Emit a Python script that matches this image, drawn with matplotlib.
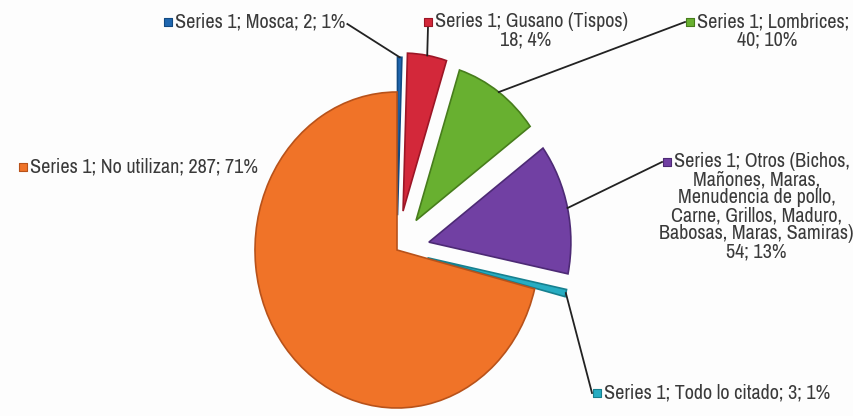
import numpy as np
import matplotlib
matplotlib.use("Agg")
import matplotlib.pyplot as plt
from matplotlib import font_manager

# ── Data ──────────────────────────────────────────────────────────────────────

series_name = "Series 1"
categories = ["Mosca", "Gusano (Tispos)", "Lombrices",
              "Otros (Bichos, Mañones, Maras, Menudencia de pollo, Carne, "
              "Grillos, Maduro, Babosas, Maras, Samiras)",
              "Todo lo citado", "No utilizan"]
counts = [2, 18, 40, 54, 3, 287]
percents = [1, 4, 10, 13, 1, 71]

# label text, wrapped the way the chart shows it
label_lines = [
    ["Series 1; Mosca; 2; 1%"],
    ["Series 1; Gusano (Tispos)", "18; 4%"],
    ["Series 1; Lombrices;", "40; 10%"],
    ["Series 1; Otros (Bichos,", "Mañones, Maras,", "Menudencia de pollo,",
     "Carne, Grillos, Maduro,", "Babosas, Maras, Samiras)", "54; 13%"],
    ["Series 1; Todo lo citado; 3; 1%"],
    ["Series 1; No utilizan; 287; 71%"],
]

colors = ["#1f67b0", "#d3283a", "#68b030", "#7140a3", "#27adc2", "#f07328"]
edges = ["#124a82", "#9c1626", "#477d1c", "#4d2a75", "#17808f", "#b8521a"]
explode = [0.22, 0.25, 0.23, 0.23, 0.22, 0.0]

# ── Layout (pixels of the 854x416 canvas) ────────────────────────────────────

W, H = 854, 416
CX, CY = 397, 250          # pie centre
RX, RY = 142, 158          # pie radius in x / y pixels

marker_pos = [(168, 22), (428, 22), (690, 22), (667, 162), (597, 393), (23, 167)]
leader_from = ["end", "below", "left", "left", "left", None]
LINE_STEP = 18
REF_WIDTH = 228            # width of the "No utilizan" label


def to_data(px, py):
    return (px - CX) / RX, (CY - py) / RY


def pick_narrow_font():
    # prefer a narrow/condensed face if one is installed
    for f in font_manager.fontManager.ttflist:
        if "Narrow" in f.name and f.weight in (400, "normal", "regular"):
            return dict(family=[f.name, "DejaVu Sans"])
    for f in font_manager.fontManager.ttflist:
        if "Condensed" in f.name or f.stretch == "condensed":
            if f.style == "normal" and f.weight in (400, "normal", "regular"):
                return dict(family=[f.name, "DejaVu Sans"], stretch=f.stretch)
    return dict(family=["DejaVu Sans"])


fig = plt.figure(figsize=(W / 100, H / 100), dpi=100)
fig.patch.set_facecolor("#fdfdfd")
ax = fig.add_axes([0, 0, 1, 1])

wedges, _ = ax.pie(counts, colors=colors, explode=explode, startangle=90,
                   counterclock=False, radius=1.0,
                   wedgeprops=dict(linewidth=1.2))
for w, ec in zip(wedges, edges):
    w.set_edgecolor(ec)

ax.set_aspect("auto")
ax.set_xlim(-CX / RX, (W - CX) / RX)
ax.set_ylim(-(H - CY) / RY, CY / RY)
ax.axis("off")

fig.canvas.draw()
renderer = fig.canvas.get_renderer()
font = pick_narrow_font()
font.update(color="#3a3a3a")

# scale the type so the longest single-line label has its usual width
probe = ax.text(0, 0, label_lines[5][0], fontsize=12, **font)
pw = probe.get_window_extent(renderer).width
probe.remove()
font["fontsize"] = 12 * REF_WIDTH / pw

for i, (lines, (mx, my)) in enumerate(zip(label_lines, marker_pos)):
    ax.scatter(*to_data(mx, my), marker="s", s=26, color=colors[i],
               edgecolors=edges[i], linewidths=0.8, zorder=5)
    first = ax.text(*to_data(mx + 7, my), lines[0], ha="left", va="center", **font)
    bb = first.get_window_extent(renderer)
    text_right = bb.x1
    centre_x = (mx - 4 + text_right) / 2
    for k, line in enumerate(lines[1:], start=1):
        ax.text(*to_data(centre_x, my + k * LINE_STEP), line,
                ha="center", va="center", **font)

    # leader line from the label to the outer edge of its wedge
    if leader_from[i] is None:
        continue
    w = wedges[i]
    mid = np.deg2rad((w.theta1 + w.theta2) / 2)
    cx, cy = w.center
    tip = (cx + w.r * np.cos(mid), cy + w.r * np.sin(mid))
    if leader_from[i] == "end":
        start = to_data(text_right + 2, my + 2)
    elif leader_from[i] == "below":
        start = to_data(mx, my + 5)
    else:
        start = to_data(mx - 5, my)
    ax.plot([start[0], tip[0]], [start[1], tip[1]], color="#222222", lw=1.3,
            zorder=4)

fig.savefig("out.png", dpi=100, facecolor=fig.get_facecolor())
